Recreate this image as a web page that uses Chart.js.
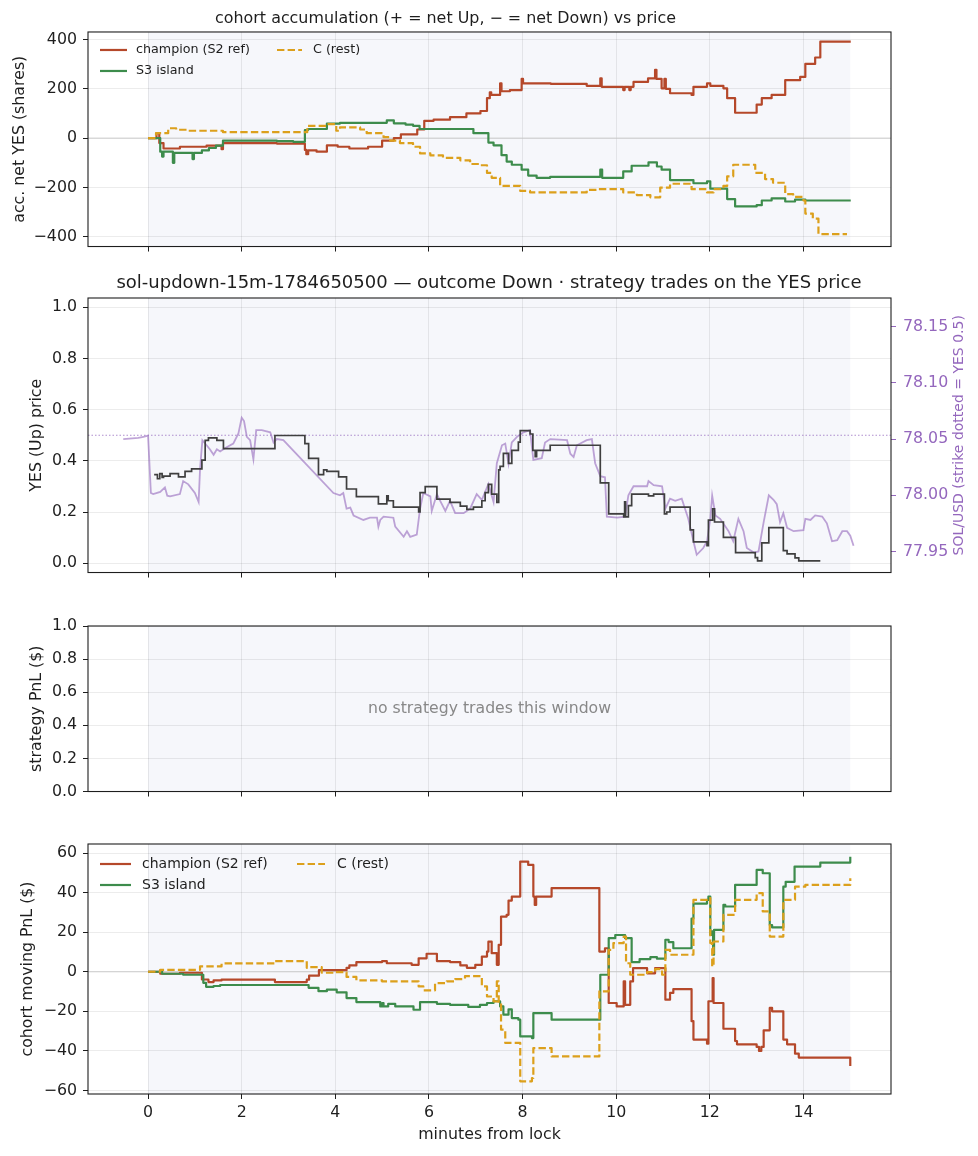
<!DOCTYPE html>
<html>
<head>
<meta charset="utf-8">
<script src="https://cdn.jsdelivr.net/npm/chart.js@4.4.1/dist/chart.umd.min.js"></script>
<style>
  body { margin: 0; background: #fff; }
  #wrap { position: relative; width: 978px; height: 1156px; }
  canvas { position: absolute; left: 0; }
</style>
</head>
<body>
<div id="wrap">
  <canvas id="acc" width="978" height="262" style="top:0px"></canvas>
  <canvas id="price" width="978" height="327" style="top:262px"></canvas>
  <canvas id="strat" width="978" height="218" style="top:589px"></canvas>
  <canvas id="cohort" width="978" height="349" style="top:807px"></canvas>
</div>
<script>
var FONT = "'DejaVu Sans', sans-serif";
var INK = '#1e1e1e';
var GRID = 'rgba(0,0,0,0.075)';
var PURPLE = '#9467bd';
var TICK_SIZE = 15.8;

// shared x axis (minutes from lock)
var X_RANGE = [-1.283, 15.87];
var X_TICKS = [0, 2, 4, 6, 8, 10, 12, 14];
var WINDOW = [0, 15];

var COHORTS = ['champion (S2 ref)', 'S3 island', 'C (rest)'];
var COHORT_COLORS = ['#b5482a', '#3d8c4c', '#dca01c'];

// panel 1: accumulated net YES shares  [minute, shares]
var accChampion = [[0,0],[0.18,20],[0.24,-20],[0.33,-42],[0.68,-35],[1.25,-30],[1.57,-45],[1.6,-20],[2.75,-22],[3.35,-48],[3.38,-65],[3.42,-50],[3.6,-55],[3.82,-29],[4.05,-35],[4.3,-42],[4.7,-35],[5.0,-10],[5.25,0],[5.4,15],[5.75,35],[5.9,70],[6.1,75],[6.45,85],[6.8,100],[7.1,110],[7.24,162],[7.3,186],[7.33,175],[7.52,222],[7.55,190],[7.73,195],[7.98,240],[8.01,222],[8.6,220],[9.37,212],[9.66,242],[9.69,208],[10.15,195],[10.18,208],[10.28,195],[10.31,208],[10.37,228],[10.68,242],[10.83,277],[10.86,240],[10.97,202],[11.03,240],[11.06,200],[11.15,182],[11.61,175],[11.65,208],[11.94,222],[12.01,212],[12.29,202],[12.37,162],[12.54,103],[13.0,136],[13.11,162],[13.32,175],[13.61,235],[13.93,248],[14.04,301],[14.25,327],[14.36,391],[15.01,391]];
var accS3 = [[0,0],[0.26,-55],[0.3,-75],[0.33,-55],[0.53,-100],[0.56,-60],[0.95,-85],[0.98,-60],[1.15,-50],[1.3,-40],[1.45,-30],[1.6,-10],[2.75,-12],[3.1,-15],[3.35,33],[3.42,37],[3.82,59],[4.1,62],[5.1,72],[5.25,60],[5.5,55],[5.66,50],[5.8,37],[6.95,20],[7.27,-18],[7.38,-29],[7.55,-69],[7.66,-95],[7.77,-108],[7.98,-128],[8.12,-152],[8.3,-161],[8.59,-157],[9.66,-128],[9.7,-161],[10.15,-135],[10.33,-112],[10.69,-98],[10.87,-115],[10.97,-128],[11.15,-170],[11.65,-183],[11.94,-175],[12.01,-205],[12.37,-247],[12.54,-277],[13.0,-272],[13.11,-253],[13.32,-244],[13.61,-257],[13.82,-249],[14.04,-253],[15.01,-253]];
var accRest = [[0,0],[0.17,20],[0.43,40],[0.6,34],[0.83,30],[1.6,24],[3.4,50],[3.82,57],[4.02,30],[4.1,44],[4.53,35],[4.67,20],[5.03,4],[5.17,-10],[5.38,-20],[5.66,-35],[5.81,-62],[6.03,-70],[6.3,-80],[6.67,-90],[6.88,-105],[7.1,-110],[7.24,-141],[7.34,-161],[7.52,-194],[7.95,-214],[8.16,-220],[9.37,-210],[9.6,-207],[10.15,-220],[10.44,-231],[10.73,-240],[10.94,-201],[11.15,-185],[11.61,-207],[11.94,-220],[12.08,-207],[12.29,-194],[12.37,-155],[12.5,-108],[12.97,-141],[13.18,-166],[13.35,-181],[13.61,-227],[13.78,-238],[14.0,-253],[14.04,-306],[14.2,-326],[14.32,-389],[14.93,-389]];
var ACC_TICKS = [-400, -200, 0, 200, 400];

// panel 2: YES (Up) price and SOL/USD  [minute, value]
var yesPrice = [[0.13,0.346],[0.2,0.33],[0.25,0.35],[0.3,0.335],[0.33,0.34],[0.47,0.35],[0.65,0.337],[0.79,0.359],[0.93,0.369],[1.15,0.403],[1.22,0.48],[1.29,0.49],[1.47,0.48],[1.61,0.448],[2.71,0.499],[3.35,0.467],[3.43,0.41],[3.64,0.346],[3.75,0.365],[3.82,0.359],[4.07,0.337],[4.24,0.29],[4.45,0.26],[4.92,0.232],[5.1,0.263],[5.13,0.244],[5.24,0.219],[5.78,0.2],[5.81,0.276],[5.92,0.299],[6.17,0.25],[6.45,0.238],[6.67,0.223],[6.81,0.21],[6.95,0.219],[7.13,0.244],[7.2,0.276],[7.27,0.308],[7.34,0.27],[7.45,0.238],[7.49,0.365],[7.52,0.378],[7.59,0.429],[7.7,0.39],[7.77,0.441],[7.91,0.473],[7.95,0.518],[8.16,0.505],[8.22,0.441],[8.27,0.416],[8.3,0.441],[8.59,0.461],[9.66,0.314],[9.84,0.193],[10.16,0.181],[10.18,0.24],[10.2,0.181],[10.26,0.225],[10.33,0.27],[10.69,0.263],[10.8,0.27],[11.03,0.193],[11.08,0.2],[11.15,0.219],[11.58,0.13],[11.65,0.083],[11.94,0.069],[11.97,0.168],[12.06,0.212],[12.1,0.161],[12.29,0.101],[12.55,0.041],[12.97,0.022],[13.02,0.009],[13.11,0.079],[13.26,0.139],[13.57,0.049],[13.65,0.036],[13.82,0.021],[13.9,0.009],[14.36,0.009]];
var solPrice = [[-0.53,78.050],[-0.21,78.051],[-0.1,78.052],[0.0,78.053],[0.06,78.002],[0.11,78.001],[0.26,78.003],[0.36,78.007],[0.41,77.9996],[0.47,77.999],[0.68,78.001],[0.75,78.0126],[0.86,78.0097],[1.0,78.002],[1.08,77.994],[1.11,78.023],[1.16,78.049],[1.25,78.0445],[1.32,78.041],[1.4,78.036],[1.47,78.041],[1.54,78.039],[1.65,78.042],[1.82,78.046],[1.93,78.055],[2.0,78.069],[2.05,78.066],[2.11,78.052],[2.18,78.049],[2.25,78.032],[2.31,78.058],[2.43,78.058],[2.61,78.056],[2.68,78.047],[2.75,78.050],[2.89,78.049],[3.96,78.002],[4.1,78.0],[4.17,78.002],[4.24,77.988],[4.32,77.989],[4.39,77.982],[4.6,77.978],[4.74,77.980],[4.89,77.980],[4.92,77.972],[4.96,77.978],[5.03,77.981],[5.24,77.980],[5.28,77.972],[5.46,77.963],[5.53,77.968],[5.6,77.963],[5.74,77.965],[5.81,77.988],[5.88,78.002],[6.03,77.999],[6.06,77.986],[6.17,78.001],[6.24,77.995],[6.35,77.986],[6.45,77.995],[6.56,77.984],[6.74,77.984],[6.88,77.988],[7.02,78.001],[7.13,77.996],[7.27,78.010],[7.38,77.994],[7.45,78.0285],[7.56,78.0445],[7.63,78.046],[7.7,78.028],[7.77,78.047],[7.88,78.052],[8.02,78.056],[8.16,78.058],[8.23,78.0315],[8.41,78.033],[8.48,78.047],[8.59,78.05],[8.95,78.049],[9.02,78.037],[9.09,78.034],[9.16,78.0445],[9.37,78.049],[9.48,78.05],[9.55,78.0285],[9.66,78.017],[9.76,78.016],[9.8,77.981],[10.02,77.980],[10.19,77.981],[10.26,78.0],[10.37,78.008],[10.51,78.008],[10.66,78.008],[10.69,78.0126],[10.8,78.009],[10.98,78.008],[11.05,77.988],[11.15,77.997],[11.26,77.995],[11.4,77.997],[11.47,77.988],[11.54,77.979],[11.65,77.959],[11.72,77.947],[11.86,77.953],[11.94,77.959],[12.01,77.979],[12.05,77.9996],[12.12,77.982],[12.22,77.979],[12.35,77.971],[12.4,77.968],[12.5,77.959],[12.61,77.979],[12.72,77.968],[12.79,77.953],[12.94,77.949],[13.04,77.950],[13.15,77.976],[13.26,78.0],[13.36,77.996],[13.43,77.992],[13.5,77.976],[13.57,77.984],[13.65,77.971],[13.79,77.968],[14.0,77.969],[14.04,77.979],[14.15,77.978],[14.25,77.982],[14.4,77.981],[14.5,77.975],[14.61,77.959],[14.72,77.960],[14.83,77.968],[14.93,77.968],[15.0,77.964],[15.07,77.955]];
var STRIKE = 78.0534;
var YES_TICKS = [0, 0.2, 0.4, 0.6, 0.8, 1.0];
var SOL_TICKS = [77.95, 78.0, 78.05, 78.1, 78.15];

// panel 3: strategy PnL (no trades)
var STRAT_TICKS = [0, 0.2, 0.4, 0.6, 0.8, 1.0];

// panel 4: cohort moving PnL  [minute, $]
var pnlChampion = [[0,0],[0.26,-1],[0.68,-0.5],[1.15,-3.9],[1.29,-5.2],[1.4,-4.4],[1.57,-4],[2.71,-5.2],[3.39,-4],[3.44,-2],[3.65,0.8],[4.24,2],[4.3,3.2],[4.45,4.9],[5.0,5.4],[5.1,4.3],[5.63,3.5],[5.78,6.8],[5.95,9.1],[6.17,5.4],[6.45,4.9],[6.67,3.2],[6.81,2.0],[6.99,3.5],[7.13,7.7],[7.24,10.2],[7.27,15.2],[7.34,9.4],[7.45,3.5],[7.49,13.6],[7.54,27.9],[7.66,28.8],[7.7,36],[7.77,38],[7.95,55.7],[8.12,54],[8.23,38],[8.26,33.8],[8.29,38],[8.62,42.3],[9.64,10.2],[9.76,11.9],[9.84,-15.8],[10.01,-17.5],[10.16,-4.9],[10.19,-16.7],[10.3,-4.9],[10.36,1.8],[10.66,-0.8],[10.83,1.8],[11.05,-14.1],[11.15,-10.7],[11.22,-8.8],[11.61,-25],[11.65,-34.3],[11.94,-36.4],[11.97,-14.9],[12.06,-3.2],[12.08,-15.8],[12.29,-28.8],[12.54,-35],[12.58,-36.7],[13.0,-38],[13.05,-40],[13.1,-38],[13.15,-29.6],[13.28,-18.3],[13.33,-20],[13.57,-34.3],[13.65,-36.7],[13.82,-41.4],[13.9,-43.4],[15.0,-47.6]];
var pnlS3 = [[0,0],[0.26,0.7],[0.3,-1],[0.75,-1.5],[1.18,-5.6],[1.24,-7.6],[1.4,-7.2],[1.54,-6.7],[3.43,-8.1],[3.64,-9.8],[3.82,-9],[4.03,-10.4],[4.24,-13.3],[4.45,-15.3],[4.96,-17.5],[5.0,-15.8],[5.03,-17.5],[5.13,-16.2],[5.28,-17.5],[5.67,-19.2],[5.81,-15.3],[6.17,-16.2],[6.45,-16.7],[6.84,-17.8],[7.09,-16.7],[7.24,-15.8],[7.38,-14.9],[7.52,-17.5],[7.59,-21.7],[7.7,-19],[7.77,-23.4],[7.91,-24.2],[7.95,-32.7],[8.2,-33.5],[8.23,-20.9],[8.62,-24.2],[9.66,-1.5],[9.84,17],[9.98,18.6],[10.19,17],[10.33,4.9],[10.5,6.4],[10.73,7.4],[10.87,6.6],[11.05,16.2],[11.12,15],[11.22,11.9],[11.61,26.9],[11.65,34.5],[11.94,36.4],[11.97,38],[12.01,18.7],[12.05,20.4],[12.07,8.6],[12.09,21.2],[12.29,33.8],[12.33,33],[12.54,43.9],[13.0,51.5],[13.13,49.8],[13.28,23.6],[13.33,22.4],[13.57,43],[13.62,45.5],[13.81,53.2],[14.36,55.2],[15.0,58.2]];
var pnlRest = [[0,0],[0.26,1],[1.11,2.7],[1.57,4.2],[2.71,5.4],[3.39,2.0],[3.44,2.3],[3.71,-0.5],[4.0,-0.2],[4.24,-2.6],[4.45,-4.4],[5.0,-4.9],[5.78,-7.4],[5.88,-9.4],[6.13,-5.7],[6.38,-4.9],[6.56,-3.7],[6.77,-2.2],[7.13,-7.4],[7.24,-12.5],[7.38,-15],[7.45,-4.9],[7.49,-15.8],[7.54,-29.3],[7.63,-36],[7.95,-55.4],[8.2,-53.7],[8.23,-38.6],[8.62,-42.8],[9.64,-9.9],[9.84,11.1],[9.94,14.5],[10.16,17.8],[10.21,4.3],[10.3,-1.5],[10.66,-0.2],[10.83,1.3],[10.98,-1.5],[11.05,11.1],[11.15,8.6],[11.65,36.4],[11.94,37.2],[12.01,14.5],[12.05,2.7],[12.08,15.3],[12.29,28.8],[12.54,36.4],[13.0,39.8],[13.13,30.5],[13.28,17.8],[13.57,36.4],[13.82,43],[14.04,43.9],[15.0,47.3]];
var PNL_TICKS = [-60, -40, -20, 0, 20, 40, 60];

function pts(arr) {
  return arr.map(function (p) { return {x: p[0], y: p[1]}; });
}

function signed(v) {
  return (v < 0 ? '\u2212' : '') + Math.abs(v);
}

function font(size) {
  return {family: FONT, size: size, weight: 'normal'};
}

function stepSet(label, data, color, dash, order) {
  return {
    label: label, data: pts(data), stepped: true, order: order,
    borderColor: color, borderWidth: 2.2, borderDash: dash,
    borderJoinStyle: 'round', pointRadius: 0, fill: false
  };
}

function xAxis(height, labels) {
  return {
    type: 'linear', min: X_RANGE[0], max: X_RANGE[1], bounds: 'data',
    afterBuildTicks: function (s) { s.ticks = X_TICKS.map(function (v) { return {value: v}; }); },
    afterFit: function (s) { s.height = height; },
    grid: {color: GRID, tickColor: INK, tickLength: 5, lineWidth: 1},
    border: {display: false},
    ticks: {display: labels, color: INK, font: font(TICK_SIZE), padding: 4.5, maxRotation: 0,
            callback: function (v) { return String(v); }},
    title: {display: labels, text: 'minutes from lock', color: INK, font: font(TICK_SIZE),
            padding: {top: 0, bottom: 11.5}}
  };
}

function yAxis(min, max, ticks, fmt, title, titlePad) {
  return {
    type: 'linear', position: 'left', min: min, max: max, bounds: 'data',
    afterBuildTicks: function (s) { s.ticks = ticks.map(function (v) { return {value: v}; }); },
    afterFit: function (s) { s.width = 88; },
    grid: {color: GRID, tickColor: INK, tickLength: 5, lineWidth: 1},
    border: {display: false},
    ticks: {color: INK, font: font(TICK_SIZE), padding: 6, callback: fmt},
    title: {display: true, text: title, color: INK, font: font(TICK_SIZE), padding: {top: titlePad, bottom: 0}}
  };
}

// shading of the trading window, reference lines, frame, inner legend, notes
function makeDecor(cfg) {
  return {
    id: 'decor',
    beforeDraw: function (chart) {
      var ctx = chart.ctx, a = chart.chartArea, x = chart.scales.x;
      var x0 = x.getPixelForValue(WINDOW[0]), x1 = x.getPixelForValue(WINDOW[1]);
      ctx.save();
      ctx.fillStyle = '#f6f7fb';
      ctx.fillRect(x0, a.top, x1 - x0, a.bottom - a.top);
      ctx.restore();
    },
    beforeDatasetsDraw: function (chart) {
      var ctx = chart.ctx, a = chart.chartArea;
      (cfg.hlines || []).forEach(function (h) {
        var y = chart.scales[h.axis].getPixelForValue(h.value);
        ctx.save();
        ctx.strokeStyle = h.color;
        ctx.lineWidth = h.width;
        ctx.setLineDash(h.dash || []);
        ctx.beginPath();
        ctx.moveTo(a.left, y);
        ctx.lineTo(a.right, y);
        ctx.stroke();
        ctx.restore();
      });
    },
    afterDraw: function (chart) {
      var ctx = chart.ctx, a = chart.chartArea;
      ctx.save();
      ctx.strokeStyle = INK;
      ctx.lineWidth = 1.1;
      ctx.strokeRect(a.left, a.top, a.right - a.left, a.bottom - a.top);

      if (cfg.legend) {
        var L = cfg.legend;
        ctx.font = L.size + 'px ' + FONT;
        ctx.textBaseline = 'middle';
        L.items.forEach(function (it) {
          var ds = chart.data.datasets[it[0]];
          var c = L.cols[it[1]];
          var y = a.top + L.rows[it[2]];
          ctx.strokeStyle = ds.borderColor;
          ctx.lineWidth = ds.borderWidth;
          ctx.setLineDash(ds.borderDash || []);
          ctx.beginPath();
          ctx.moveTo(a.left + c[0], y);
          ctx.lineTo(a.left + c[1], y);
          ctx.stroke();
          ctx.setLineDash([]);
          ctx.fillStyle = INK;
          ctx.textAlign = 'left';
          ctx.fillText(ds.label, a.left + c[2], y);
        });
      }

      if (cfg.note) {
        ctx.font = '15.7px ' + FONT;
        ctx.fillStyle = '#888888';
        ctx.textAlign = 'center';
        ctx.textBaseline = 'middle';
        ctx.fillText(cfg.note, (a.left + a.right) / 2, (a.top + a.bottom) / 2);
      }

      if (cfg.rightTitle) {
        ctx.translate(cfg.rightTitle.x, (a.top + a.bottom) / 2);
        ctx.rotate(-Math.PI / 2);
        ctx.font = '14px ' + FONT;
        ctx.fillStyle = PURPLE;
        ctx.textAlign = 'center';
        ctx.textBaseline = 'middle';
        ctx.fillText(cfg.rightTitle.text, 0, 0);
      }
      ctx.restore();
    }
  };
}

function baseOptions() {
  return {
    responsive: false, animation: false, events: [],
    plugins: {legend: {display: false}, tooltip: {enabled: false}, title: {display: false}}
  };
}

var zeroLine = {axis: 'y', value: 0, color: '#cccccc', width: 1};
var restDash = [7.4, 3.2];

// panel 1
var o1 = baseOptions();
o1.layout = {padding: {left: 0, right: 87, top: 0, bottom: 0}};
o1.scales = {
  x: xAxis(10, false),
  y: yAxis(-439.5, 430.4, ACC_TICKS, signed, 'acc. net YES (shares)', 10.5)
};
o1.plugins.title = {display: true, text: 'cohort accumulation (+ = net Up, \u2212 = net Down) vs price',
  color: INK, font: font(15.9), padding: {top: 9, bottom: 3.9}};
new Chart(document.getElementById('acc'), {
  type: 'line',
  data: {datasets: [
    stepSet(COHORTS[0], accChampion, COHORT_COLORS[0], [], 3),
    stepSet(COHORTS[1], accS3, COHORT_COLORS[1], [], 2),
    stepSet(COHORTS[2], accRest, COHORT_COLORS[2], restDash, 1)
  ]},
  options: o1,
  plugins: [makeDecor({
    hlines: [zeroLine],
    legend: {size: 12.7, rows: [18, 39], cols: [[12, 39, 48], [189, 214, 225]],
             items: [[0, 0, 0], [1, 0, 1], [2, 1, 0]]}
  })]
});

// panel 2
var o2 = baseOptions();
o2.layout = {padding: {left: 0, right: 0, top: 0, bottom: 0}};
o2.scales = {
  x: xAxis(10, false),
  y: yAxis(-0.0365, 1.0365, YES_TICKS, function (v) { return v.toFixed(1); }, 'YES (Up) price', 27.5),
  y2: {
    type: 'linear', position: 'right', min: STRIKE - 0.1222, max: STRIKE + 0.1222, bounds: 'data',
    afterBuildTicks: function (s) { s.ticks = SOL_TICKS.map(function (v) { return {value: v}; }); },
    afterFit: function (s) { s.width = 87; },
    grid: {drawOnChartArea: false, tickColor: PURPLE, tickLength: 5},
    border: {display: false},
    ticks: {color: PURPLE, font: font(TICK_SIZE), padding: 7, callback: function (v) { return v.toFixed(2); }}
  }
};
o2.plugins.title = {display: true,
  text: 'sol-updown-15m-1784650500 \u2014 outcome Down \u00b7 strategy trades on the YES price',
  color: INK, font: font(18), padding: {top: 10.8, bottom: 3.6}};
new Chart(document.getElementById('price'), {
  type: 'line',
  data: {datasets: [
    {label: 'YES', data: pts(yesPrice), yAxisID: 'y', stepped: true, borderColor: '#3f3f3f',
     borderWidth: 1.7, pointRadius: 0, fill: false, order: 1},
    {label: 'SOL/USD', data: pts(solPrice), yAxisID: 'y2', borderColor: 'rgba(148,103,189,0.6)',
     borderWidth: 1.8, pointRadius: 0, fill: false, tension: 0, order: 2}
  ]},
  options: o2,
  plugins: [makeDecor({
    hlines: [{axis: 'y2', value: STRIKE, color: 'rgba(148,103,189,0.75)', width: 1, dash: [1.5, 2]}],
    rightTitle: {x: 959, text: 'SOL/USD (strike dotted = YES 0.5)'}
  })]
});

// panel 3
var o3 = baseOptions();
o3.layout = {padding: {left: 0, right: 87, top: 37, bottom: 0}};
o3.scales = {
  x: xAxis(10, false),
  y: yAxis(0, 1, STRAT_TICKS, function (v) { return v.toFixed(1); }, 'strategy PnL ($)', 27.5)
};
new Chart(document.getElementById('strat'), {
  type: 'line',
  data: {datasets: []},
  options: o3,
  plugins: [makeDecor({note: 'no strategy trades this window'})]
});

// panel 4
var o4 = baseOptions();
o4.layout = {padding: {left: 0, right: 87, top: 37, bottom: 0}};
o4.scales = {
  x: xAxis(62, true),
  y: yAxis(-61.8, 64.6, PNL_TICKS, signed, 'cohort moving PnL ($)', 18.5)
};
new Chart(document.getElementById('cohort'), {
  type: 'line',
  data: {datasets: [
    stepSet(COHORTS[0], pnlChampion, COHORT_COLORS[0], [], 3),
    stepSet(COHORTS[1], pnlS3, COHORT_COLORS[1], [], 2),
    stepSet(COHORTS[2], pnlRest, COHORT_COLORS[2], restDash, 1)
  ]},
  options: o4,
  plugins: [makeDecor({
    hlines: [zeroLine],
    legend: {size: 14, rows: [20, 41], cols: [[12, 43, 54], [209, 237, 249]],
             items: [[0, 0, 0], [1, 0, 1], [2, 1, 0]]}
  })]
});
</script>
</body>
</html>
